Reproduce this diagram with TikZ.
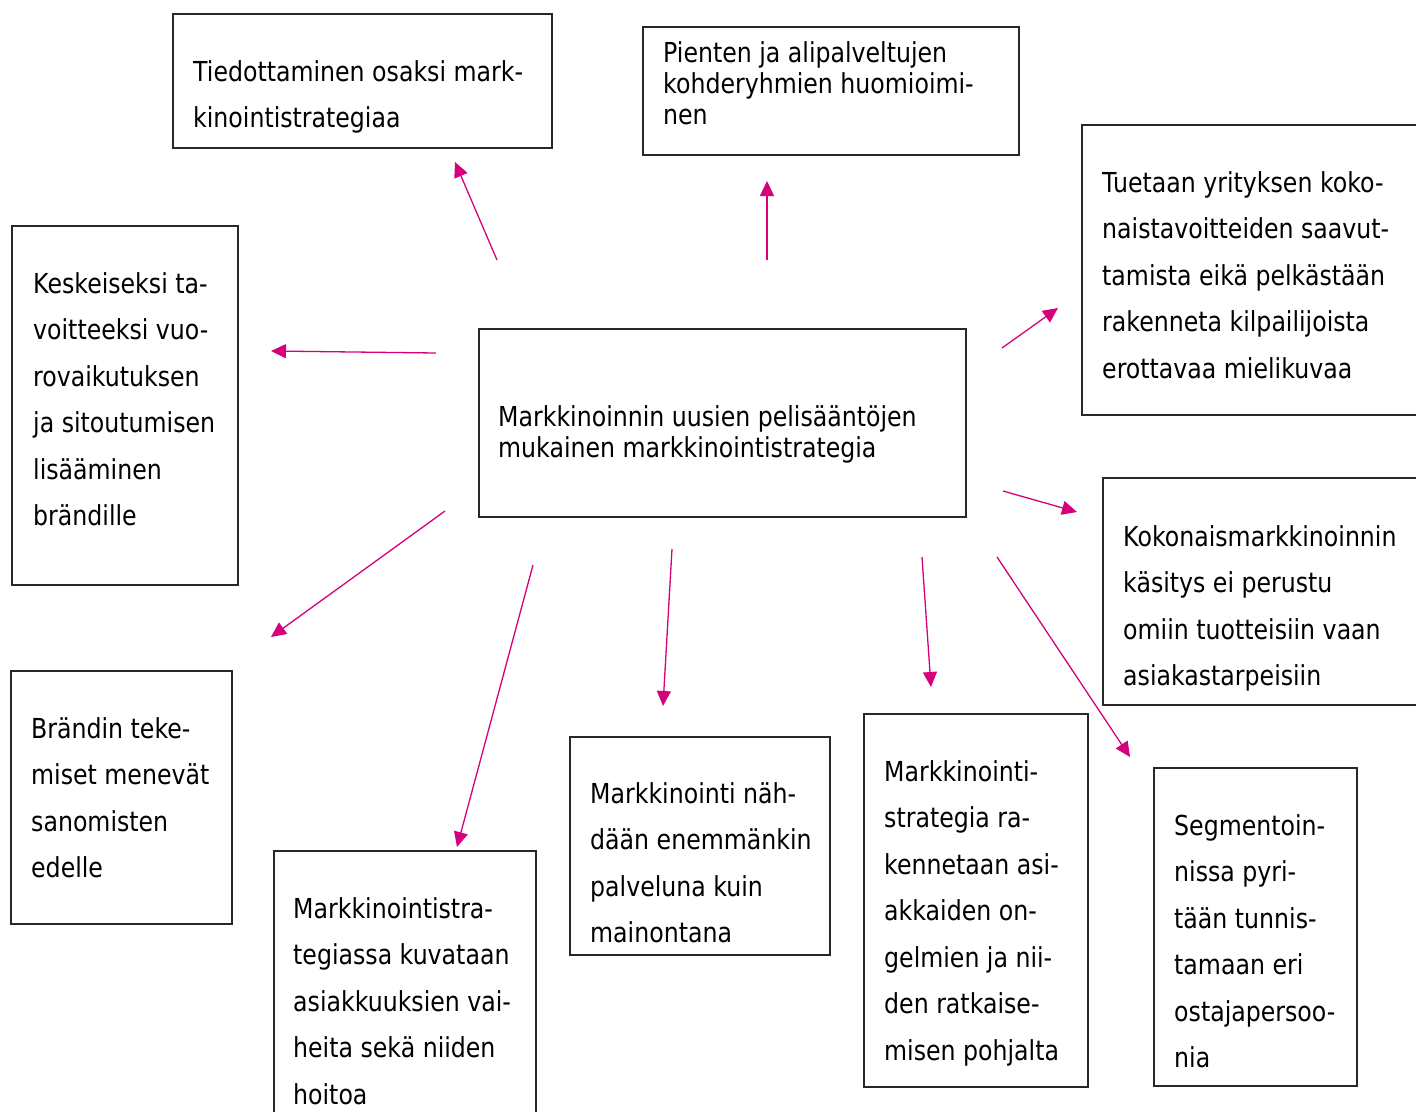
\documentclass[tikz,border=0pt]{standalone}
\usepackage{fontspec}
\setmainfont{DejaVu Sans}[FakeStretch=0.86]
\usetikzlibrary{arrows.meta}
\definecolor{mag}{RGB}{214,0,122}
\definecolor{boxline}{RGB}{40,40,40}
\tikzset{
  box/.style={draw=boxline, line width=1.4pt, fill=none},
  wide/.style={anchor=base west, inner sep=0pt, align=left, font=\fontsize{27.5}{46.5}\selectfont},
  tight/.style={anchor=base west, inner sep=0pt, align=left, font=\fontsize{27.5}{31}\selectfont},
  arr/.style={draw=mag, line width=1.3pt, -{Triangle[length=15pt,width=14pt]}}
}
\begin{document}
\begin{tikzpicture}[x=1pt,y=-1pt]
\useasboundingbox (0,0) rectangle (1416,1111);
% boxes
\draw[box] (173,14) rectangle (552,148);
\draw[box] (643,27) rectangle (1019,155);
\draw[box] (1082,125) rectangle (1430,415);
\draw[box] (12,226) rectangle (238,585);
\draw[box] (479,329) rectangle (966,517);
\draw[box] (1103,478) rectangle (1430,705);
\draw[box] (11,671) rectangle (232,924);
\draw[box] (274,851) rectangle (536,1125);
\draw[box] (570,737) rectangle (830,955);
\draw[box] (864,714) rectangle (1088,1087);
\draw[box] (1154,768) rectangle (1357,1086);
% texts (anchored at the baseline of the last line)
\node[wide] (t1) at (193,127.5) {Tiedottaminen osaksi mark-\\kinointistrategiaa};
\node[tight] (t2) at (663,124) {Pienten ja alipalveltujen\\kohderyhmien huomioimi-\\nen};
\node[wide] (t3) at (1102,378) {Tuetaan yrityksen koko-\\naistavoitteiden saavut-\\tamista eikä pelkästään\\rakenneta kilpailijoista\\erottavaa mielikuvaa};
\node[wide] (t4) at (33,525.5) {Keskeiseksi ta-\\voitteeksi vuo-\\rovaikutuksen\\ja sitoutumisen\\lisääminen\\brändille};
\node[tight] (t5) at (498,457) {Markkinoinnin uusien pelisääntöjen\\mukainen markkinointistrategia};
\node[wide] (t6) at (1123,685.5) {Kokonaismarkkinoinnin\\käsitys ei perustu\\omiin tuotteisiin vaan\\asiakastarpeisiin};
\node[wide] (t7) at (31,877.5) {Brändin teke-\\miset menevät\\sanomisten\\edelle};
\node[wide] (t8) at (293,1104) {Markkinointistra-\\tegiassa kuvataan\\asiakkuuksien vai-\\heita sekä niiden\\hoitoa};
\node[wide] (t9) at (590,942.5) {Markkinointi näh-\\dään enemmänkin\\palveluna kuin\\mainontana};
\node[wide] (t10) at (884,1060) {Markkinointi-\\strategia ra-\\kennetaan asi-\\akkaiden on-\\gelmien ja nii-\\den ratkaise-\\misen pohjalta};
\node[wide] (t11) at (1174,1067.5) {Segmentoin-\\nissa pyri-\\tään tunnis-\\tamaan eri\\ostajapersoo-\\nia};
% arrow ends
\coordinate (s1) at (497,260); \coordinate (e1) at (455,162);
\coordinate (s2) at (767,260); \coordinate (e2) at (767,181);
\coordinate (s3) at (1002,348); \coordinate (e3) at (1058,308);
\coordinate (s4) at (436,353); \coordinate (e4) at (271,351);
\coordinate (s5) at (1003,491); \coordinate (e5) at (1077,512);
\coordinate (s6) at (445,511); \coordinate (e6) at (271,637);
\coordinate (s7) at (533,565); \coordinate (e7) at (457,847);
\coordinate (s8) at (672,549); \coordinate (e8) at (663,706);
\coordinate (s9) at (922,557); \coordinate (e9) at (931,687);
\coordinate (s10) at (997,557); \coordinate (e10) at (1130,757);
\foreach \i in {1,...,10} \draw[arr] (s\i) -- (e\i);
\end{tikzpicture}
\end{document}
